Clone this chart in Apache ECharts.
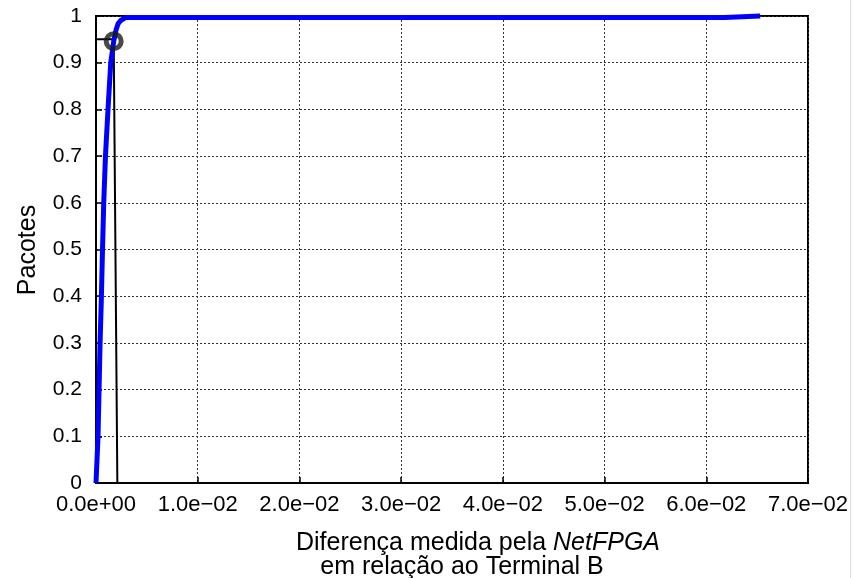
<!DOCTYPE html>
<html>
<head>
<meta charset="utf-8">
<script src="https://cdn.jsdelivr.net/npm/echarts@6/dist/echarts.min.js"></script>
<style>html,body{margin:0;padding:0;background:#fff}#c{width:863px;height:578px}</style>
</head>
<body>
<div id="c"></div>
<script>
const cdfX = [0, 0.0002, 0.0003, 0.0004, 0.00052, 0.00064, 0.00076, 0.00093, 0.00118, 0.00145, 0.00174, 0.00197, 0.00216, 0.00246, 0.00295, 0.0618, 0.0618, 0.0653];
const cdfY = [0, 0.1, 0.2, 0.3, 0.39, 0.5, 0.6, 0.7, 0.8, 0.9, 0.946, 0.97, 0.983, 0.991, 0.997, 0.997, 1.0, 1.0];
const markX = [0, 0.00174, 0.0019, 0.0021];
const markY = [0.95, 0.95, 0.946, 0];
const pointX = [0.00174];
const pointY = [0.946];
const xTickLabels = ['0.0e+00','1.0e\u221202','2.0e\u221202','3.0e\u221202','4.0e\u221202','5.0e\u221202','6.0e\u221202','7.0e\u221202'];
const yTickLabels = ['0','0.1','0.2','0.3','0.4','0.5','0.6','0.7','0.8','0.9','1'];

const FONT = '"Liberation Sans", Arial, sans-serif';
const chart = echarts.init(document.getElementById('c'), null, {renderer: 'canvas'});
chart.setOption({
  animation: false,
  backgroundColor: '#fff',
  grid: {left: 96, right: 55, top: 16, bottom: 95, show: true, borderColor: '#000', borderWidth: 2, backgroundColor: 'transparent'},
  xAxis: {
    type: 'value', min: 0, max: 0.07, interval: 0.01,
    axisLine: {show: true, lineStyle: {color: '#000', width: 2}},
    axisTick: {show: true, inside: true, length: 6, lineStyle: {color: '#000', width: 1.5}},
    axisLabel: {color: '#000', fontFamily: FONT, fontSize: 22, margin: 11,
      formatter: v => xTickLabels[Math.round(v / 0.01)]},
    splitLine: {show: true, lineStyle: {color: '#333', width: 1, type: [2, 2]}}
  },
  yAxis: {
    type: 'value', min: 0, max: 1, interval: 0.1,
    axisLine: {show: true, lineStyle: {color: '#000', width: 2}},
    axisTick: {show: true, inside: true, length: 6, lineStyle: {color: '#000', width: 1.5}},
    axisLabel: {color: '#000', fontFamily: FONT, fontSize: 21, margin: 14,
      formatter: v => yTickLabels[Math.round(v / 0.1)]},
    splitLine: {show: true, lineStyle: {color: '#333', width: 1, type: [2, 2]}}
  },
  graphic: [
    {type: 'text', x: 28, y: 250, rotation: Math.PI / 2, style: {
      text: 'Pacotes', align: 'center', verticalAlign: 'middle',
      fontFamily: FONT, fontSize: 25, fill: '#000'}},
    {type: 'text', x: 478, y: 543, style: {
      align: 'center', verticalAlign: 'middle',
      text: '{n|Diferença medida pela }{i|NetFPGA}',
      rich: {
        n: {fontFamily: FONT, fontSize: 25, fill: '#000'},
        i: {fontFamily: FONT, fontSize: 25, fontStyle: 'italic', fill: '#000'}
      }
    }},
    {type: 'text', x: 462, y: 567, style: {
      align: 'center', verticalAlign: 'middle',
      text: 'em relação ao Terminal B',
      fontFamily: FONT, fontSize: 25, fill: '#000'
    }},
    {type: 'line', shape: {x1: 850.5, y1: 0, x2: 850.5, y2: 578}, style: {stroke: '#ddd', lineWidth: 1}}
  ],
  series: [
    {type: 'line', data: markX.map((x, i) => [x, markY[i]]), symbol: 'none', clip: false, z: 3,
      lineStyle: {color: '#000', width: 2}},
    {type: 'line', data: cdfX.map((x, i) => [x, cdfY[i]]), symbol: 'none', clip: false, z: 4,
      lineStyle: {color: '#0000ff', width: 5, join: 'round'}},
    {type: 'scatter', data: pointX.map((x, i) => [x, pointY[i]]), symbol: 'circle', symbolSize: 15, z: 5,
      itemStyle: {color: 'rgba(0,0,0,0)', borderColor: '#1a1a1a', borderWidth: 5}}
  ]
});
</script>
</body>
</html>
